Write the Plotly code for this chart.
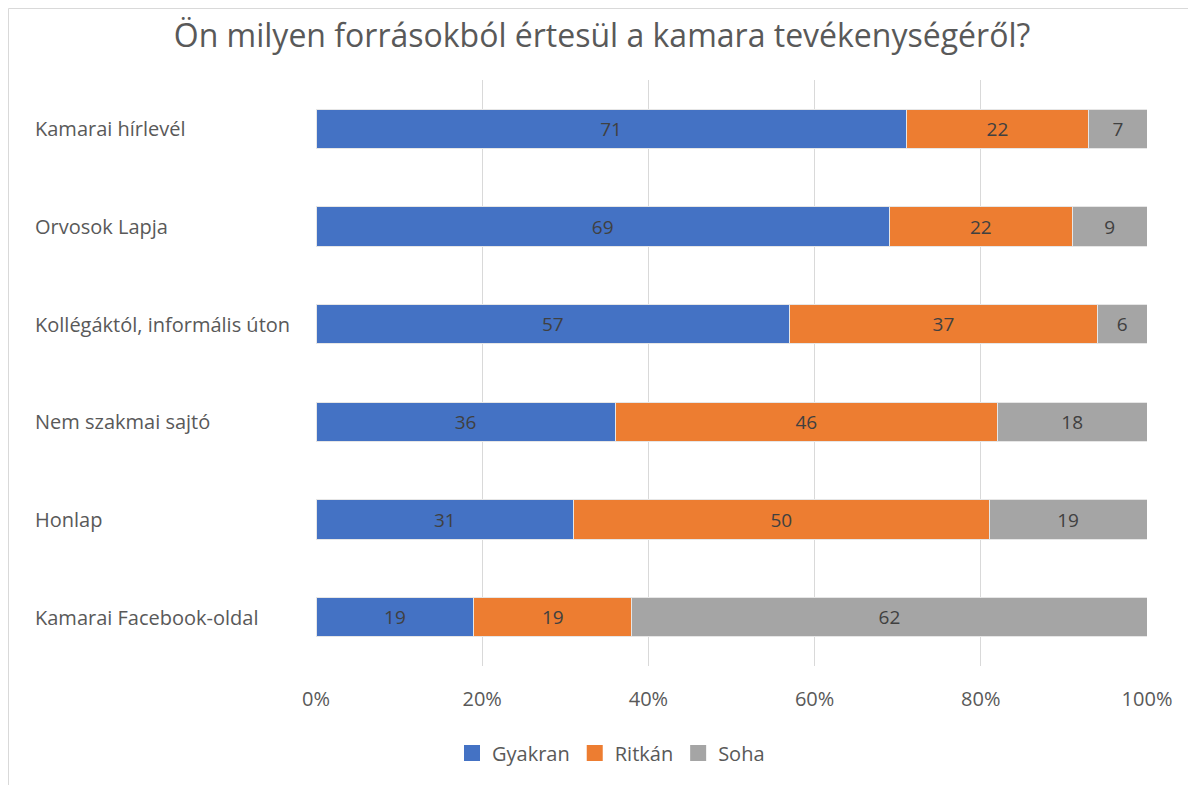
import plotly.graph_objects as go

categories = ["Kamarai hírlevél", "Orvosok Lapja", "Kollégáktól, informális úton",
              "Nem szakmai sajtó", "Honlap", "Kamarai Facebook-oldal"]
gyakran = [71, 69, 57, 36, 31, 19]
ritkan = [22, 22, 37, 46, 50, 19]
soha = [7, 9, 6, 18, 19, 62]
series_names = ["Gyakran", "Ritkán", "Soha"]
colors = ["#4472C4", "#ED7D31", "#A5A5A5"]
tick_vals = [0, 20, 40, 60, 80, 100]
tick_text = ["0%", "20%", "40%", "60%", "80%", "100%"]
title = "Ön milyen forrásokból értesül a kamara tevékenységéről?"

FONT = "Open Sans"
OFF = 8  # page body margin
W, H = 1196 - OFF, 785 - OFF
ML, MT = 316 - OFF, 80 - OFF
PW, PH = 831, 586
MR = W - ML - PW
MB = H - MT - PH

fig = go.Figure()
for name, vals, col in zip(series_names, [gyakran, ritkan, soha], colors):
    fig.add_trace(go.Bar(
        y=categories, x=vals, name=name, orientation="h",
        marker=dict(color=col, line=dict(color="#E6E6E6", width=1)),
        text=[str(v) for v in vals], textposition="inside",
        insidetextanchor="middle",
        textfont=dict(family=FONT, size=19, color="#404040"),
        hoverinfo="skip", showlegend=False,
    ))
    fig.add_trace(go.Scatter(
        x=[None], y=[None], mode="markers", name=name,
        marker=dict(symbol="square", size=18, color=col),
        showlegend=True, hoverinfo="skip",
    ))

for c in categories:
    fig.add_annotation(x=(33 - OFF - ML) / PW, xref="paper", y=c, yref="y",
                       text=c, showarrow=False, xanchor="left",
                       font=dict(family=FONT, size=20, color="#595959"))

fig.add_shape(type="rect", xref="paper", yref="paper",
              x0=(0.5 - ML) / PW, x1=(W + 200 - ML) / PW,
              y0=-1.0, y1=(MT + PH - 0.5) / PH,
              line=dict(color="#D9D9D9", width=1), layer="below")

fig.update_layout(
    width=W, height=H,
    barmode="stack", bargap=0.6,
    margin=dict(l=ML, r=MR, t=MT, b=MB),
    paper_bgcolor="white", plot_bgcolor="white",
    title=dict(text=title, x=0.5, xref="container", xanchor="center",
               y=1 - (36 - OFF) / H, yanchor="middle",
               font=dict(family=FONT, size=32, color="#595959")),
    xaxis=dict(range=[0, 100], tickvals=tick_vals, ticktext=tick_text,
               showgrid=True, gridcolor="#D9D9D9", gridwidth=1, zeroline=False,
               showline=False, ticks="", ticklabelstandoff=19,
               tickfont=dict(family=FONT, size=20, color="#595959"), fixedrange=True),
    yaxis=dict(autorange="reversed", showticklabels=False, showgrid=False,
               zeroline=False, showline=False, ticks="", fixedrange=True),
    legend=dict(orientation="h", x=(611 - OFF) / W, xref="container", xanchor="center",
                y=1 - (753 - OFF) / H, yref="container", yanchor="middle",
                font=dict(family=FONT, size=20, color="#595959"),
                traceorder="normal"),
    showlegend=True,
)

fig.write_html("out.html")
